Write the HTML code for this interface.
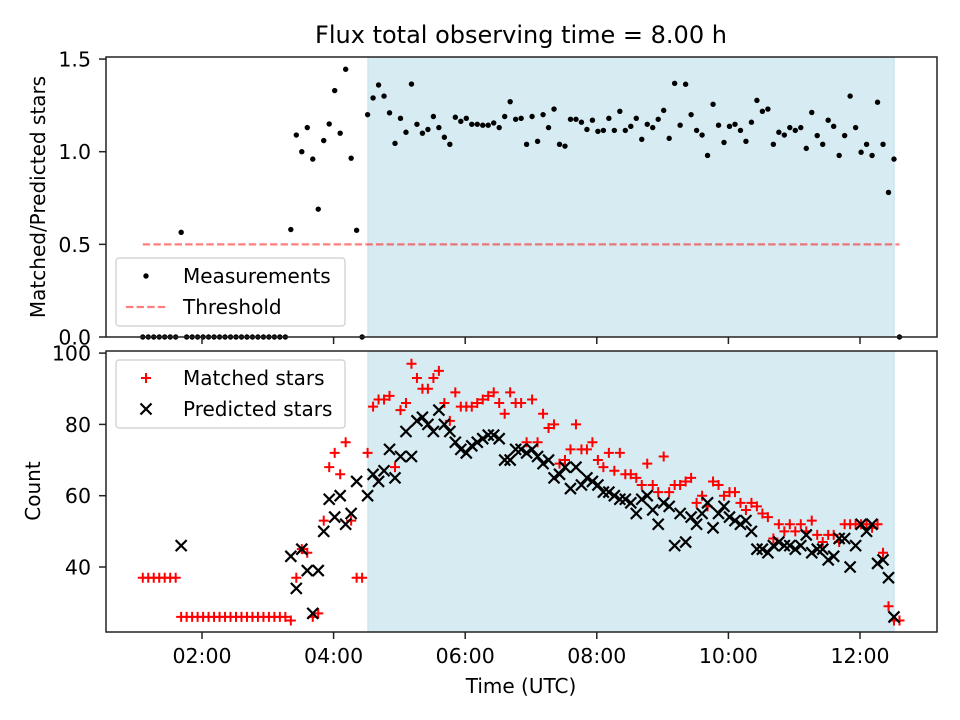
<!DOCTYPE html>
<html><head><meta charset="utf-8"><style>
html,body{margin:0;padding:0;background:#fff;}
svg{display:block;font-family:"DejaVu Sans","Liberation Sans",sans-serif;}
</style></head><body>
<svg id="chart" width="960" height="720" viewBox="0 0 960 720" xmlns="http://www.w3.org/2000/svg">
<rect width="960" height="720" fill="#fff"/>
<text x="521" y="43" font-size="24" text-anchor="middle">Flux total observing time = 8.00 h</text>
<g id="gtop"></g>
<g id="gbot"></g>
<text transform="translate(45,197) rotate(-90)" font-size="20" text-anchor="middle">Matched/Predicted stars</text>
<text transform="translate(40,491) rotate(-90)" font-size="20" text-anchor="middle">Count</text>
<text x="521" y="693" font-size="20" text-anchor="middle">Time (UTC)</text>
</svg>
<script>
const ratio=[0,0,0,0,0,0,0,0.565,0,0,0,0,0,0,0,0,0,0,0,0,0,0,0,0,0,0,0,
0.58,1.09,1.0,1.13,0.96,0.69,1.06,1.15,1.33,1.10,1.445,0.965,0.576,0,
1.20,1.29,1.36,1.30,1.21,1.045,1.18,1.105,1.365,1.148,1.10,1.12,1.19,1.13,1.078,1.04,1.186,1.164,1.18,1.148,1.148,1.143,1.143,1.155,1.13,1.19,1.27,1.175,1.18,1.04,
1.19,1.056,1.20,1.13,1.23,1.04,1.03,1.175,1.175,1.159,1.12,1.17,1.11,1.115,1.18,1.115,1.218,1.115,1.137,1.18,1.067,1.148,1.13,1.175,1.223,1.072,1.369,1.143,1.364,1.20,1.115,1.09,0.98,
1.256,1.143,1.05,1.137,1.148,1.115,1.056,1.159,1.277,1.218,1.23,1.04,1.105,1.09,1.13,1.115,1.13,1.018,1.212,1.087,1.04,1.17,1.137,0.98,1.087,1.30,1.13,0.997,1.04,0.98,1.267,1.04,0.78,0.96,0];
const matched=[37,37,37,37,37,37,37,26,26,26,26,26,26,26,26,26,26,26,26,26,26,26,26,26,26,26,26,
25,37,45,44,26,27,53,68,72,66,75,53,37,37,
72,85,87,87,88,68,84,86,97,93,90,90,93,95,86,81,89,85,85,85,86,87,88,89,86,83,89,86,86,75,
87,75,83,79,80,69,70,73,80,73,73,75,70,68,72,67,72,66,66,65,63,69,63,61,71,61,63,63,64,65,58,60,57,
64,63,60,61,61,58,56,58,57,55,54,48,52,50,52,50,52,50,53,49,47,49,49,47,52,52,52,52,52,51,52,44,29,25,25];
const predicted=[null,null,null,null,null,null,null,46,null,null,null,null,null,null,null,null,null,null,null,null,null,null,null,null,null,null,null,
43,34,45,39,27,39,50,59,54,60,52,55,64,null,
60,66,64,67,73,65,71,78,71,81,82,80,78,84,80,78,75,73,72,74,75,76,77,77,76,70,70,73,73,72,
73,71,69,70,65,66,68,62,68,63,65,64,63,61,61,60,59,59,58,55,59,60,56,52,58,57,46,55,47,54,52,55,58,
51,55,57,54,53,52,53,50,45,45,44,46,47,46,46,45,46,49,44,45,45,42,43,48,48,40,46,52,50,52,41,42,37,26,null];
const startHour=1.1, stepHour=5/60;
const threshold=0.5;
const windowStart=4.52, windowEnd=12.52;
const xTickHours=[2,4,6,8,10,12];
const xTickLabels=["02:00","04:00","06:00","08:00","10:00","12:00"];
const topTicks=[0,0.5,1.0,1.5];
const topTickLabels=["0.0","0.5","1.0","1.5"];
const botTicks=[40,60,80,100];
const botTickLabels=["40","60","80","100"];

const NS="http://www.w3.org/2000/svg";
const X0=106,X1=937,T0=57,T1=337,B0=351,B1=632;
function xs(h){return 202+(h-2)*65.8;}
function yt(v){return 337-v*185.3;}
function yb(v){return 567-(v-40)*3.565;}
function mk(tag,attrs,parent){const e=document.createElementNS(NS,tag);for(const k in attrs)e.setAttribute(k,attrs[k]);parent.appendChild(e);return e;}
const topG=document.getElementById('gtop'), botG=document.getElementById('gbot');

[[topG,T0,T1],[botG,B0,B1]].forEach(([g,a,b])=>{
  const r=mk('rect',{x:xs(windowStart),y:a,width:xs(windowEnd)-xs(windowStart),height:b-a,fill:'#add8e6','fill-opacity':0.5,stroke:'#add8e6','stroke-opacity':0.6},g);
  
  
});

const tl=mk('line',{x1:xs(startHour),x2:xs(startHour+stepHour*(ratio.length-1)),y1:yt(threshold),y2:yt(threshold),stroke:'#ff0000','stroke-opacity':0.5,'stroke-width':2.2,'stroke-dasharray':'7.4,3.2'},topG);



ratio.forEach((v,i)=>{
  const c=mk('circle',{cx:xs(startHour+i*stepHour),cy:yt(v),r:2.7,fill:'#000'},topG);
  
  
});

matched.forEach((v,i)=>{
  if(v===null)return;
  const x=xs(startHour+i*stepHour),y=yb(v),s=5;
  const p=mk('path',{d:`M${x-s},${y}H${x+s}M${x},${y-s}V${y+s}`,stroke:'#ff0000','stroke-width':2,fill:'none'},botG);
  
  
});
predicted.forEach((v,i)=>{
  if(v===null)return;
  const x=xs(startHour+i*stepHour),y=yb(v),s=5.5;
  const p=mk('path',{d:`M${x-s},${y-s}L${x+s},${y+s}M${x-s},${y+s}L${x+s},${y-s}`,stroke:'#000','stroke-width':2.2,fill:'none'},botG);
  
  
});

[[topG,T0,T1],[botG,B0,B1]].forEach(([g,a,b])=>{
  const f=mk('rect',{x:X0,y:a,width:X1-X0,height:b-a,fill:'none',stroke:'#222','stroke-width':1.5},g);
  
  
  xTickHours.forEach(h=>{
    const t=mk('line',{x1:xs(h),x2:xs(h),y1:b,y2:b+7,stroke:'#222','stroke-width':1.5},g);
    
    
  });
});
xTickHours.forEach((h,i)=>{
  const t=mk('text',{x:xs(h),y:663,'font-size':20.5,'text-anchor':'middle'},botG);
  t.textContent=xTickLabels[i];
  
  
});
topTicks.forEach((v,i)=>{
  const l=mk('line',{x1:X0-7,x2:X0,y1:yt(v),y2:yt(v),stroke:'#222','stroke-width':1.5},topG);
  
  
  const t=mk('text',{x:X0-15,y:yt(v)+7.5,'font-size':20.5,'text-anchor':'end'},topG);
  t.textContent=topTickLabels[i];
  
  
});
botTicks.forEach((v,i)=>{
  const l=mk('line',{x1:X0-7,x2:X0,y1:yb(v),y2:yb(v),stroke:'#222','stroke-width':1.5},botG);
  
  
  const t=mk('text',{x:X0-15,y:yb(v)+7.5,'font-size':20.5,'text-anchor':'end'},botG);
  t.textContent=botTickLabels[i];
  
  
});

function legend(g,y0,items){
  const lg=mk('g',{},g);
  
  
  mk('rect',{x:116,y:y0,width:229,height:68,rx:3,fill:'#fff','fill-opacity':0.8,stroke:'#ccc','stroke-width':1.2},lg);
  items.forEach((it,k)=>{
    const cy=y0+18+k*31;
    const e=mk('g',{},lg);
    
    
    it.draw(e,146,cy);
    const t=mk('text',{x:183,y:cy+7,'font-size':20},e);
    t.textContent=it.label;
  });
}
legend(topG,258,[
  {name:'legend-measurements',label:'Measurements',draw:(e,x,y)=>mk('circle',{cx:x,cy:y,r:2.7,fill:'#000'},e)},
  {name:'legend-threshold',label:'Threshold',draw:(e,x,y)=>mk('line',{x1:126,x2:166,y1:y,y2:y,stroke:'#ff0000','stroke-opacity':0.5,'stroke-width':2.2,'stroke-dasharray':'7.4,3.2'},e)}
]);
legend(botG,360,[
  {name:'legend-matched',label:'Matched stars',draw:(e,x,y)=>mk('path',{d:`M${x-5},${y}H${x+5}M${x},${y-5}V${y+5}`,stroke:'#f00','stroke-width':2},e)},
  {name:'legend-predicted',label:'Predicted stars',draw:(e,x,y)=>mk('path',{d:`M${x-5.5},${y-5.5}L${x+5.5},${y+5.5}M${x-5.5},${y+5.5}L${x+5.5},${y-5.5}`,stroke:'#000','stroke-width':2.2},e)}
]);
</script>
</body></html>
